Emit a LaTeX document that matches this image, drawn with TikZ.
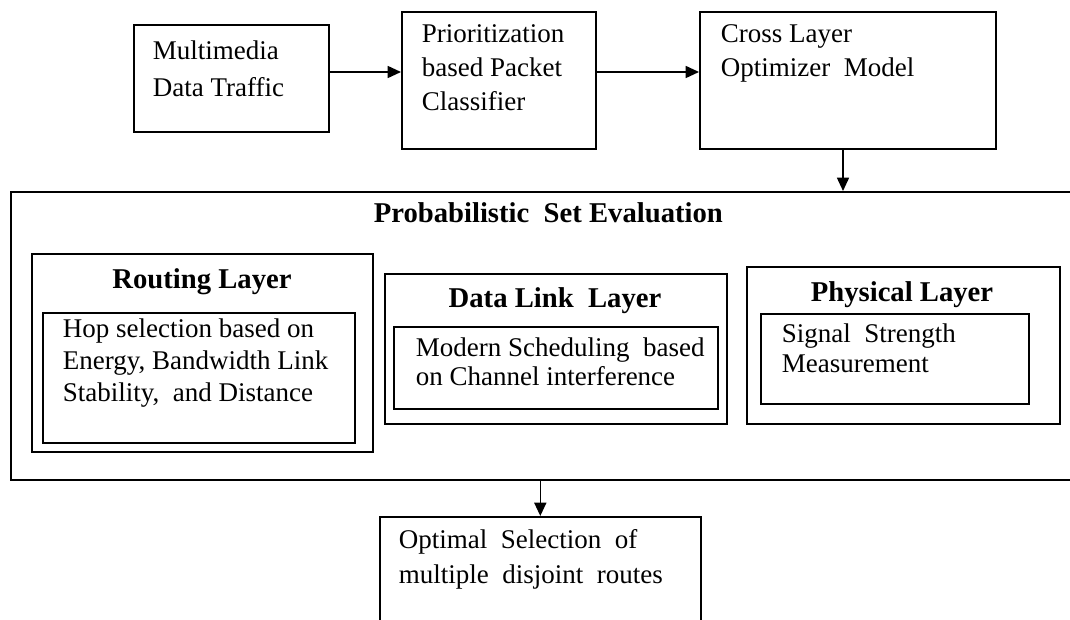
\documentclass[tikz,border=0pt]{standalone}
\usepackage{fontspec}
\setmainfont{Liberation Serif}
\usetikzlibrary{arrows.meta}
\tikzset{
  box/.style={draw, anchor=north west, inner sep=0pt},
  txt/.style={anchor=base west, align=left, inner sep=0pt, font=\fontsize{20.25}{25.5}\selectfont},
  subtxt/.style={txt, font=\fontsize{20.25}{23}\selectfont},
  ttl/.style={anchor=base, inner sep=0pt, font=\fontsize{21.5}{25}\selectfont\bfseries},
}
\def\u{0.75pt}

\begin{document}
\begin{tikzpicture}[x=0.75pt, y=-0.75pt, line width=1.2pt, >={Triangle[length=10pt,width=9pt]}]
                \clip (0,0) rectangle (1070,620);
                \node[box, minimum width=195*\u, minimum height=107*\u] (traffic) at (133,24) {};
                \node[box, minimum width=194*\u, minimum height=137*\u] (classifier) at (401,11) {};
                \node[box, minimum width=296*\u, minimum height=137*\u] (optimizer) at (699,11) {};
                \node[txt, font=\fontsize{20.25}{27.75}\selectfont] (traffic-t) at (152,97) {Multimedia\\Data Traffic};
                \node[txt] (classifier-t) at (421,111) {Prioritization\\based Packet\\Classifier};
                \node[txt] (optimizer-t) at (720,77) {Cross Layer\\Optimizer~ Model};
                \coordinate (row) at (0,72);
                \draw[->] (traffic.east |- row) -- (classifier.west |- row);
                \draw[->] (classifier.east |- row) -- (optimizer.west |- row);

                \node[box, minimum width=1075*\u, minimum height=288*\u] (evaluation) at (10,191) {};
                \coordinate (drop) at (843,0);
                \draw[->] (optimizer.south -| drop) -- (evaluation.north -| drop);
                \node[ttl, anchor=base west] (evaluation-t) at (373,223) {Probabilistic~ Set Evaluation};

                \node[box, minimum width=341*\u, minimum height=198*\u] (routing) at (31,253) {};
                \node[box, minimum width=312*\u, minimum height=130*\u] (routing-in) at (42,312) {};
                \node[ttl] (routing-t) at (202,288) {Routing Layer};
                \node[subtxt, font=\fontsize{20.25}{24}\selectfont] (routing-x) at (62,401) {Hop selection based on\\Energy, Bandwidth Link\\Stability,~ and Distance};

                \node[box, minimum width=342*\u, minimum height=150*\u] (datalink) at (384,273) {};
                \node[box, minimum width=324*\u, minimum height=82*\u] (datalink-in) at (393,326) {};
                \node[ttl] (datalink-t) at (555,307) {Data Link~ Layer};
                \node[subtxt, font=\fontsize{20.25}{21.75}\selectfont] (datalink-x) at (415,385) {Modern Scheduling~ based\\on Channel interference};

                \node[box, minimum width=313*\u, minimum height=157*\u] (physical) at (746,266) {};
                \node[box, minimum width=268*\u, minimum height=90*\u] (physical-in) at (760,313) {};
                \node[ttl] (physical-t) at (902,301) {Physical Layer};
                \node[subtxt, font=\fontsize{20.25}{22.5}\selectfont] (physical-x) at (781,372) {Signal~ Strength\\Measurement};

                \node[box, minimum width=321*\u, minimum height=150*\u] (selection) at (379,516) {};
                \node[txt, font=\fontsize{20.25}{26.25}\selectfont] (selection-t) at (398,583) {Optimal~ Selection~ of\\multiple~ disjoint~ routes};
                \draw[->] (evaluation.south -| selection.north) -- (selection.north);
            \end{tikzpicture}
\end{document}
